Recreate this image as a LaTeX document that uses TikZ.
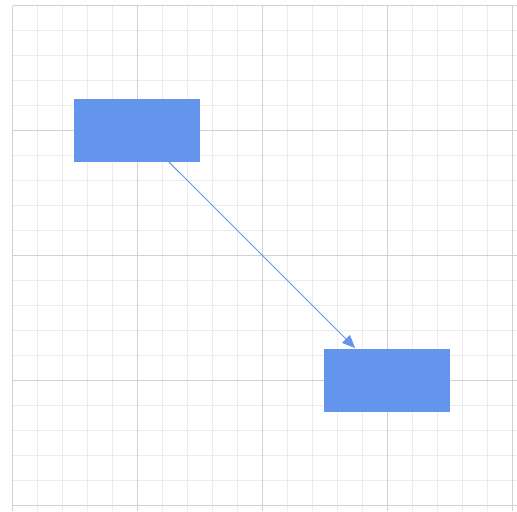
\documentclass[tikz,border=0pt]{standalone}
\usetikzlibrary{arrows.meta}
\newlength{\du}
\setlength{\du}{0.02cm}
\definecolor{boxcolor}{rgb}{0.392157, 0.584314, 0.929412}
\definecolor{minorcolor}{rgb}{0.920000, 0.920000, 0.920000}
\definecolor{majorcolor}{rgb}{0.820000, 0.820000, 0.820000}
\tikzset{
  blockbox/.style={fill=boxcolor, draw=none, inner sep=0pt,
    minimum width=126\du, minimum height=63\du},
  link/.style={draw=boxcolor, line width=1\du,
    -{Triangle[length=7.4pt,width=6.2pt]}}
}
\begin{document}
\begin{tikzpicture}
\pgftransformxscale{1.000000}
\pgftransformyscale{-1.000000}
\useasboundingbox (0\du,0\du) rectangle (517\du,511\du);
\fill[white] (0\du,0\du) rectangle (517\du,511\du);
% minor grid
\foreach \k in {0,...,20}{
  \draw[minorcolor, line width=1\du] (12.5\du+\k*25\du,5.5\du)--(12.5\du+\k*25\du,511\du);
  \draw[minorcolor, line width=1\du] (12.5\du,5.5\du+\k*25\du)--(517\du,5.5\du+\k*25\du);
}
% major grid
\foreach \k in {0,...,4}{
  \draw[majorcolor, line width=1.4\du] (12.5\du+\k*125\du,5.5\du)--(12.5\du+\k*125\du,511\du);
  \draw[majorcolor, line width=1.4\du] (12.5\du,5.5\du+\k*125\du)--(517\du,5.5\du+\k*125\du);
}
% blocks
\node[blockbox] (first) at (137.000000\du,130.000000\du){};
\node[blockbox] (second) at (387.000000\du,380.000000\du){};
% connector
\draw[link] (first)--(second);
\end{tikzpicture}
\end{document}
